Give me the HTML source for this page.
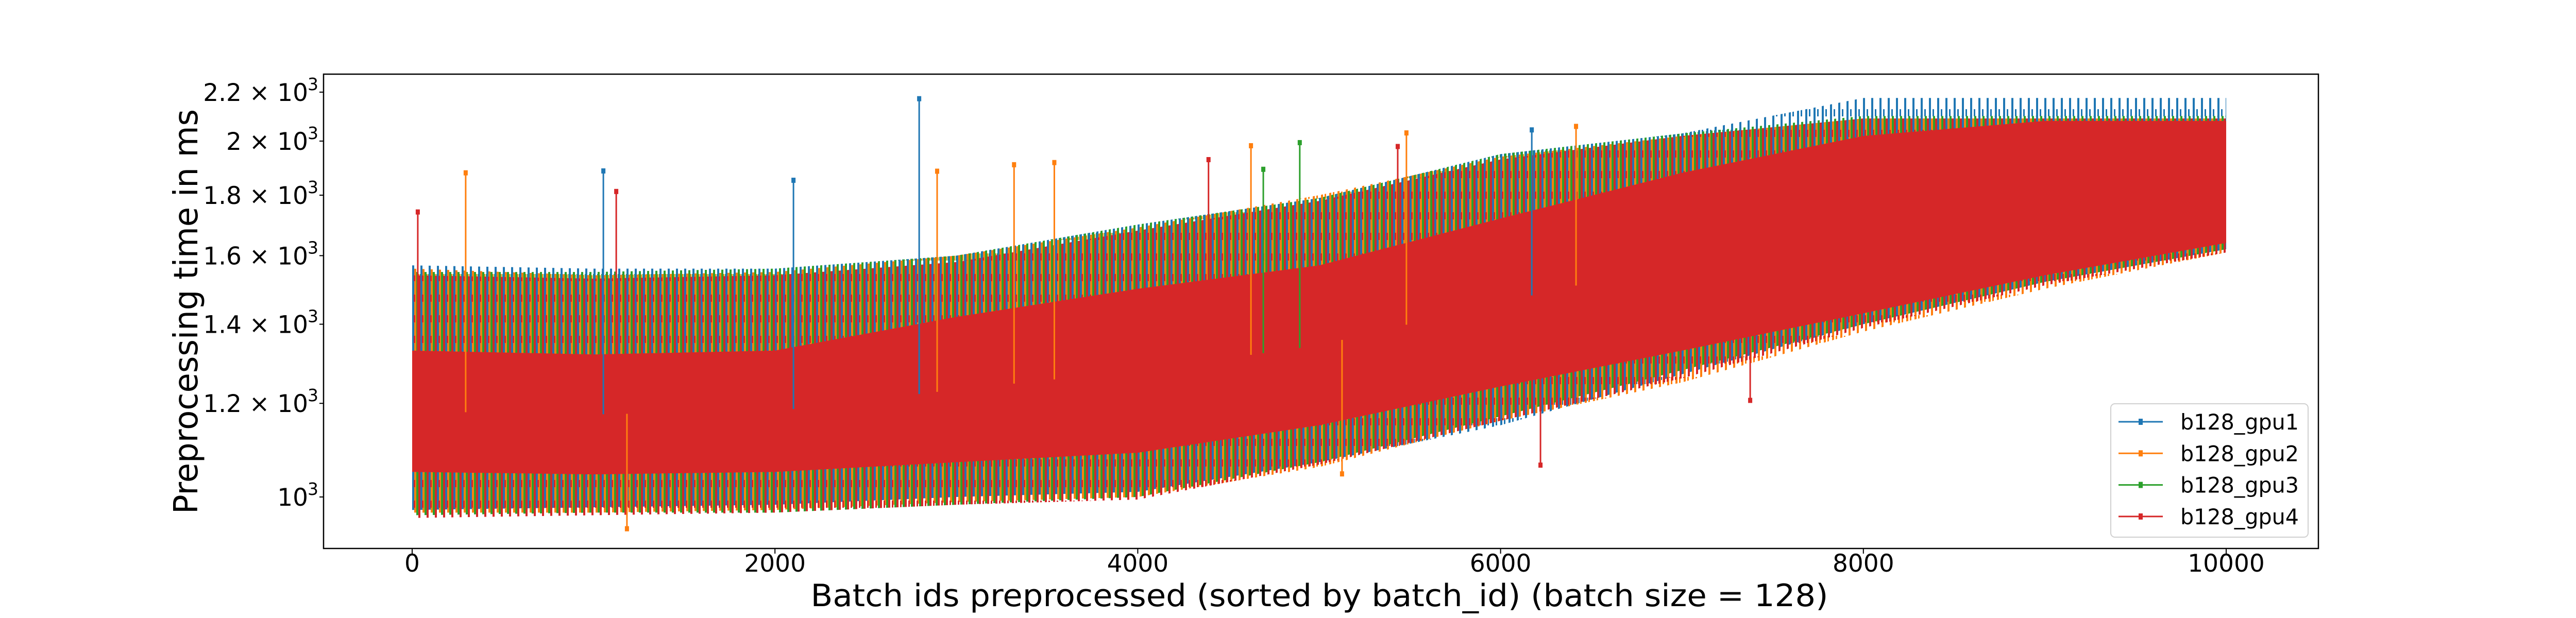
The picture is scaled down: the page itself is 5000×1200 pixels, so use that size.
<!DOCTYPE html>
<html><head><meta charset="utf-8"><style>
html,body{margin:0;padding:0;background:#fff;}
svg{display:block;font-family:"DejaVu Sans","Liberation Sans",sans-serif;}
</style></head><body>
<svg id="chart" width="5000" height="1200" viewBox="0 0 5000 1200" xmlns="http://www.w3.org/2000/svg">
<defs id="defs"></defs>
<rect width="5000" height="1200" fill="#fff"/>
<g id="bands"></g>
<g id="spikes"></g>
<rect x="628" y="144" width="3872" height="921" fill="none" stroke="#000" stroke-width="2.5"/>
<g id="xticks"></g>
<g id="yticks"></g>
<text x="2561" y="1177" font-size="60" text-anchor="middle" textLength="1975" lengthAdjust="spacingAndGlyphs">Batch ids preprocessed (sorted by batch_id) (batch size = 128)</text>
<text transform="translate(383,605) rotate(-90)" font-size="64" text-anchor="middle" textLength="786" lengthAdjust="spacingAndGlyphs">Preprocessing time in ms</text>
<g>
<rect x="4097" y="784" width="383" height="259" rx="8" fill="#fff" fill-opacity="0.85" stroke="#d0d0d0" stroke-width="2"/>
<g id="legend-items"></g>
</g>
</svg>
<script>
var ids = [0,1000,2000,3000,4000,5000,6000,7000,8000,9000,10000];
var gpu1Hi = [1570,1560,1560,1600,1700,1790,1950,2030,2175,2175,2175];
var gpu1Lo = [975,980,985,1000,1010,1070,1150,1270,1400,1520,1620];
var gpu2Hi = [1560,1540,1550,1600,1690,1800,1940,2020,2090,2090,2090];
var gpu2Lo = [970,970,975,990,1000,1060,1160,1250,1380,1500,1610];
var gpu3Hi = [1550,1550,1560,1600,1700,1790,1950,2030,2100,2100,2100];
var gpu3Lo = [965,970,970,985,1000,1070,1170,1280,1400,1520,1620];
var gpu4Hi = [1540,1530,1540,1580,1680,1780,1930,2020,2090,2090,2090];
var gpu4Lo = [960,965,970,985,995,1065,1160,1260,1390,1510,1610];
var gpu4CoreHi = [1330,1320,1330,1420,1500,1570,1720,1880,2020,2080,2080];
var gpu4CoreLo = [1050,1045,1050,1070,1090,1150,1240,1330,1430,1540,1640];
var spikeIds = [2795,295,1054,1125,31,4624,4390,3540,3318,2894,2102,4692,5481,4893,5433,6416,6172,6220,5126,7376,1184];
var spikeVals = [2172,1880,1887,1813,1742,1982,1929,1918,1910,1886,1853,1893,2032,1994,1979,2058,2044,1064,1046,1207,940];
var spikeSeries = [0,1,0,3,3,1,3,1,1,1,0,2,1,2,3,1,0,3,1,3,1];
var seriesNames = ["b128_gpu1","b128_gpu2","b128_gpu3","b128_gpu4"];
var xTicks = [0,2000,4000,6000,8000,10000];
var yTickVals = [1000,1200,1400,1600,1800,2000,2200];
var yTickMant = ["","1.2","1.4","1.6","1.8","2","2.2"];

var colors = ["#1f77b4","#ff7f0e","#2ca02c","#d62728"];
var NS = "http://www.w3.org/2000/svg";
function X(v){return 800 + v*0.3521;}
function Y(v){return 965 - 997*Math.log(v/1000);}
function mk(tag,attrs,parent){var e=document.createElementNS(NS,tag);for(var k in attrs)e.setAttribute(k,attrs[k]);parent.appendChild(e);return e;}

var defs=document.getElementById('defs');
var stripeW=[4,4,4,5], offs=[0,4,8,12];
for(var s0=0;s0<4;s0++){
  var pat=mk('pattern',{id:'pat'+s0,patternUnits:'userSpaceOnUse',width:16,height:40},defs);
  mk('rect',{x:offs[s0],y:0,width:stripeW[s0],height:40,fill:colors[s0]},pat);
  mk('rect',{x:(offs[s0]+7)%16,y:12,width:3,height:14,fill:colors[s0]},pat);
}

var bands = document.getElementById('bands');
var his=[gpu1Hi,gpu2Hi,gpu3Hi,gpu4Hi], los=[gpu1Lo,gpu2Lo,gpu3Lo,gpu4Lo];
function bandPath(hi,lo){
  var d='';
  for(var i=0;i<ids.length;i++) d+=(i?'L':'M')+X(ids[i]).toFixed(1)+','+Y(hi[i]).toFixed(1);
  for(var j=ids.length-1;j>=0;j--) d+='L'+X(ids[j]).toFixed(1)+','+Y(lo[j]).toFixed(1);
  return d+'Z';
}
for(var s=0;s<4;s++){
  var p=mk('path',{d:bandPath(his[s],los[s]),fill:'url(#pat'+s+')'},bands);
  
  
}
var core=mk('path',{d:bandPath(gpu4CoreHi,gpu4CoreLo),fill:colors[3]},bands);



var spikes=document.getElementById('spikes');
for(var k=0;k<spikeIds.length;k++){
  var c=colors[spikeSeries[k]], x=X(spikeIds[k]), y=Y(spikeVals[k]);
  var i=Math.min(ids.length-2,Math.floor(spikeIds[k]/1000));
  var t=(spikeIds[k]-ids[i])/1000;
  var mid=Math.exp((Math.log(gpu4CoreHi[i])*(1-t)+Math.log(gpu4CoreHi[i+1])*t + Math.log(gpu4CoreLo[i])*(1-t)+Math.log(gpu4CoreLo[i+1])*t)/2);
  var g=mk('g',{},spikes);
  
  
  mk('line',{x1:x,y1:Y(mid),x2:x,y2:y,stroke:c,'stroke-width':3},g);
  mk('rect',{x:x-4,y:y-5,width:8,height:10,fill:c},g);
}

var xt=document.getElementById('xticks');
xTicks.forEach(function(v){
  var g=mk('g',{},xt);
  
  
  mk('line',{x1:X(v),y1:1065,x2:X(v),y2:1075,stroke:'#000','stroke-width':2},g);
  var t=mk('text',{x:X(v),y:1110,'font-size':47,'text-anchor':'middle'},g);
  t.textContent=String(v);
});
var yt=document.getElementById('yticks');
yTickVals.forEach(function(v,i){
  var g=mk('g',{},yt);
  
  
  var y=Y(v);
  mk('line',{x1:620,y1:y,x2:628,y2:y,stroke:'#000','stroke-width':2},g);
  var t=mk('text',{x:598,y:y+17,'font-size':47,'text-anchor':'end'},g);
  t.textContent=(yTickMant[i]?yTickMant[i]+' \u00d7 ':'')+'10';
  var sup=mk('text',{x:618,y:y-4,'font-size':33,'text-anchor':'end'},g);
  sup.textContent='3';
});

var li=document.getElementById('legend-items');
for(var s2=0;s2<4;s2++){
  var y=819+s2*61.3;
  var g=mk('g',{},li);
  
  
  mk('line',{x1:4112,y1:y,x2:4198,y2:y,stroke:colors[s2],'stroke-width':3},g);
  mk('rect',{x:4151,y:y-6,width:8,height:12,fill:colors[s2]},g);
  var t=mk('text',{x:4232,y:y+15,'font-size':42,textLength:230,lengthAdjust:'spacingAndGlyphs'},g);
  t.textContent=seriesNames[s2];
}
</script>
</body></html>
